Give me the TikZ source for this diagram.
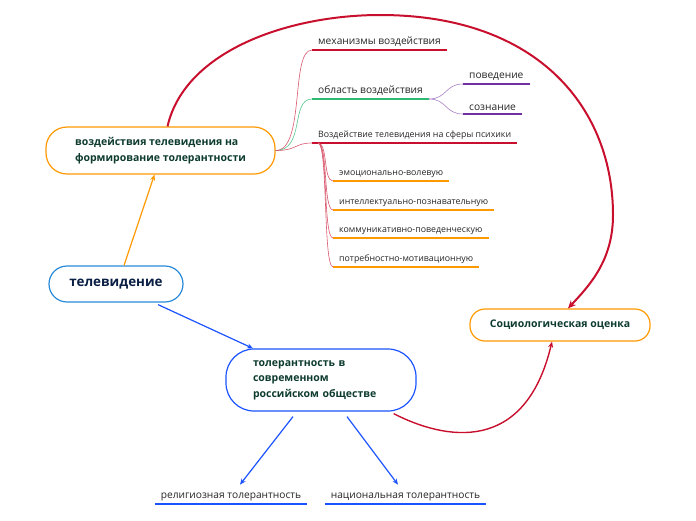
\documentclass[tikz,border=0pt]{standalone}
\usepackage{fontspec}
\setmainfont{Open Sans}
\usetikzlibrary{arrows.meta, positioning}
\definecolor{mapred}{HTML}{C8102E}
\definecolor{maporange}{HTML}{FF9900}
\definecolor{mapgreen}{HTML}{2EB872}
\definecolor{mappurple}{HTML}{7030A0}
\definecolor{mapblue}{HTML}{1A53FF}
\definecolor{mapsky}{HTML}{2A8AD8}
\definecolor{mapink}{HTML}{0D3B2E}
\definecolor{mapnavy}{HTML}{0A1F44}
\definecolor{maptext}{HTML}{262626}

\begin{document}
\begin{tikzpicture}[
    x=1pt, y=-1pt,
    topic/.style={draw, line width=1.2pt, fill=white, font=\fontsize{10.5}{15.5}\selectfont\bfseries, text=mapink, align=left},
    leaf/.style={font=\fontsize{10.2}{11}\selectfont, text=maptext, inner xsep=6pt, inner ysep=3pt, anchor=south west},
    small/.style={leaf, font=\fontsize{8.8}{10}\selectfont},
    ul/.style={line width=1.6pt},
    twig/.style={line width=0.6pt},
    arrow/.style={-{Stealth[length=6pt, width=5pt]}, line width=1.2pt},
    bigarrow/.style={-{Stealth[length=8pt, width=7pt]}, line width=2pt, draw=mapred}
]
    \useasboundingbox (0,0) rectangle (696,520);

    % main topics
    \node[topic, draw=mapsky, text=mapnavy, font=\fontsize{13.4}{16}\selectfont\bfseries, rounded corners=18pt, minimum width=134pt, minimum height=36pt, align=center] (tv) at (116,284) {телевидение};
    \node[topic, draw=maporange, rounded corners=21pt, minimum width=229pt, minimum height=47pt] (impact) at (160.5,150.5) {воздействия телевидения на\\формирование толерантности};
    \node[topic, draw=mapblue, rounded corners=28pt, text width=136pt, inner xsep=27pt, minimum height=62pt] (tol) at (321,380) {толерантность в\\современном\\российском обществе};
    \node[topic, draw=maporange, rounded corners=15pt, minimum width=180pt, minimum height=32pt, align=center] (socio) at (560,325) {Социологическая оценка};

    % leaves
    \node[leaf] (mech) at (312,50) {механизмы воздействия};
    \node[leaf] (field) at (312,99) {область воздействия};
    \node[leaf] (behav) at (463,84) {поведение};
    \node[leaf] (mind) at (463,114) {сознание};
    \node[small] (psych) at (312,143) {Воздействие телевидения на сферы психики};
    \node[small] (emo) at (333,181) {эмоционально-волевую};
    \node[small] (intel) at (333,210) {интеллектуально-познавательную};
    \node[small] (comm) at (333,238) {коммуникативно-поведенческую};
    \node[small] (need) at (333,267) {потребностно-мотивационную};
    \node[leaf, anchor=south] (rel) at (231,504) {религиозная толерантность};
    \node[leaf, anchor=south] (nat) at (405.5,504) {национальная толерантность};

    \draw[ul, mapred] (mech.south west) -- (mech.south east);
    \draw[ul, mapgreen] (field.south west) -- (field.south east);
    \draw[ul, mappurple] (behav.south west) -- (behav.south east);
    \draw[ul, mappurple] (mind.south west) -- (mind.south east);
    \draw[ul, mapred] (psych.south west) -- (psych.south east);
    \draw[ul, maporange] (emo.south west) -- (emo.south east);
    \draw[ul, maporange] (intel.south west) -- (intel.south east);
    \draw[ul, maporange] (comm.south west) -- (comm.south east);
    \draw[ul, maporange] (need.south west) -- (need.south east);
    \draw[ul, mapblue] (rel.south west) -- (rel.south east);
    \draw[ul, mapblue] (nat.south west) -- (nat.south east);

    % branches
    \draw[twig, mapred!70] (impact.east) .. controls +(30,0) and +(-22,0) .. (mech.south west);
    \draw[twig, mapgreen!80] (impact.east) .. controls +(30,0) and +(-22,0) .. (field.south west);
    \draw[twig, mapred!70] (impact.east) .. controls +(22,0) and +(-18,0) .. (psych.south west);
    \draw[twig, mappurple!60] (field.south east) .. controls +(18,0) and +(-18,0) .. (behav.south west);
    \draw[twig, mappurple!60] (field.south east) .. controls +(18,0) and +(-18,0) .. (mind.south west);
    \coordinate (psyroot) at ([xshift=6pt]psych.south west);
    \draw[twig, mapred!70] (psyroot) .. controls +(10,0) and +(-10,0) .. (emo.south west);
    \draw[twig, mapred!70] (psyroot) .. controls +(10,0) and +(-10,0) .. (intel.south west);
    \draw[twig, mapred!70] (psyroot) .. controls +(10,0) and +(-10,0) .. (comm.south west);
    \draw[twig, mapred!70] (psyroot) .. controls +(10,0) and +(-10,0) .. (need.south west);

    % relations
    \draw[arrow, maporange] ([xshift=8pt]tv.north) -- ([xshift=-6pt]impact.south);
    \draw[arrow, mapblue] ([xshift=42pt,yshift=-2pt]tv.south) -- ([xshift=-68pt]tol.north);
    \draw[arrow, mapblue] ([xshift=-28pt,yshift=-5pt]tol.south) -- ([xshift=9pt,yshift=5pt]rel.north);
    \draw[arrow, mapblue] ([xshift=26pt,yshift=-5pt]tol.south) -- ([xshift=-7.5pt,yshift=5pt]nat.north);
    \draw[bigarrow] ([xshift=7pt]impact.north) .. controls (185,50) and (290,15) .. (380,15)
        .. controls (540,15) and (613,110) .. (613,215)
        .. controls (613,260) and (590,285) .. ([xshift=8pt]socio.north);
    \draw[arrow, mapred, line width=1.4pt] ([xshift=-23pt,yshift=-2pt]tol.south east) .. controls (445,440) and (525,455) .. ([xshift=-8pt]socio.south);
\end{tikzpicture}
\end{document}
